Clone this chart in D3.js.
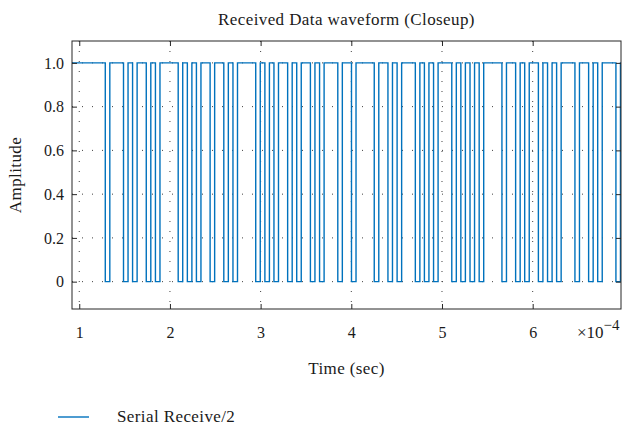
<!DOCTYPE html>
<html>
<head>
<meta charset="utf-8">
<script src="https://cdn.jsdelivr.net/npm/d3@7"></script>
<style>
  body { margin: 0; background: #fff; }
  svg text { font-family: "Liberation Serif", "DejaVu Serif", serif; fill: #1a1a1a; }
</style>
</head>
<body>
<svg id="chart"></svg>
<script>
// time values in units of 1e-4 s
const xTicks = [1, 2, 3, 4, 5, 6];
const yTicks = [0, 0.2, 0.4, 0.6, 0.8, 1.0];
const xRange = [0.92, 6.974];
const yRange = [-0.125, 1.1];

// low (0) pulses of the received signal, start and end times (x 1e-4 s)
const lowStart = [1.287, 1.488, 1.588, 1.739, 1.840, 2.091, 2.192, 2.292, 2.443, 2.594,
  2.695, 2.946, 3.047, 3.147, 3.298, 3.398, 3.549, 3.650, 3.851, 4.002,
  4.253, 4.404, 4.505, 4.706, 4.806, 4.907, 5.108, 5.208, 5.309, 5.410,
  5.661, 5.812, 5.912, 6.063, 6.164, 6.264, 6.466, 6.617, 6.717, 6.918];
const lowEnd = [1.337, 1.538, 1.638, 1.789, 1.890, 2.141, 2.242, 2.342, 2.493, 2.644,
  2.745, 2.996, 3.097, 3.197, 3.348, 3.448, 3.599, 3.700, 3.901, 4.052,
  4.303, 4.454, 4.555, 4.756, 4.856, 4.957, 5.158, 5.258, 5.359, 5.460,
  5.711, 5.862, 5.962, 6.113, 6.214, 6.314, 6.516, 6.667, 6.767, 6.968];

const dimensions = {
  width: 623,
  height: 426,
  margin: { top: 41, bottom: 117, left: 72, right: 2 }
};
const w = dimensions.width - dimensions.margin.left - dimensions.margin.right;
const h = dimensions.height - dimensions.margin.top - dimensions.margin.bottom;

const svg = d3.select("#chart")
  .attr("width", dimensions.width)
  .attr("height", dimensions.height);

const g = svg.append("g")
  .attr("transform", `translate(${dimensions.margin.left},${dimensions.margin.top})`);

const xScale = d3.scaleLinear().domain(xRange).range([0, w]);
const yScale = d3.scaleLinear().domain(yRange).range([h, 0]);

// dotted grid
g.append("g").selectAll("line").data(xTicks).join("line")
  .attr("x1", d => xScale(d)).attr("x2", d => xScale(d))
  .attr("y1", 0).attr("y2", h)
  .attr("stroke", "#404040").attr("stroke-width", 1)
  .attr("stroke-dasharray", "1,9");
g.append("g").selectAll("line").data(yTicks).join("line")
  .attr("y1", d => yScale(d)).attr("y2", d => yScale(d))
  .attr("x1", 0).attr("x2", w)
  .attr("stroke", "#404040").attr("stroke-width", 1)
  .attr("stroke-dasharray", "1,9");

// build the step signal
const points = [[xRange[0], 1]];
lowStart.forEach((s, i) => {
  points.push([s, 0]);
  points.push([lowEnd[i], 1]);
});
points.push([xRange[1], 1]);

g.append("clipPath").attr("id", "clip")
  .append("rect").attr("x", 0).attr("y", 0).attr("width", w).attr("height", h);

const line = d3.line()
  .x(d => xScale(d[0]))
  .y(d => yScale(d[1]))
  .curve(d3.curveStepAfter);

g.append("path")
  .datum(points)
  .attr("clip-path", "url(#clip)")
  .attr("fill", "none")
  .attr("stroke", "#0072BD")
  .attr("stroke-width", 1.4)
  .attr("d", line);

// axes with inward ticks on all sides
const fmtY = d => (d === 0 ? "0" : d.toFixed(1));
const axisStyle = sel => {
  sel.select(".domain").remove();
  sel.selectAll(".tick line").attr("stroke", "#262626");
  sel.selectAll("text").style("font-size", "16px").attr("fill", "#1a1a1a");
};

g.append("g").attr("transform", `translate(0,${h})`)
  .call(d3.axisBottom(xScale).tickValues(xTicks).tickSize(-5).tickPadding(18).tickFormat(d3.format("d")))
  .call(axisStyle);
g.append("g")
  .call(d3.axisTop(xScale).tickValues(xTicks).tickSize(-5).tickFormat(""))
  .call(axisStyle);
g.append("g")
  .call(d3.axisLeft(yScale).tickValues(yTicks).tickSize(-5).tickPadding(8).tickFormat(fmtY))
  .call(axisStyle);
g.append("g").attr("transform", `translate(${w},0)`)
  .call(d3.axisRight(yScale).tickValues(yTicks).tickSize(-5).tickFormat(""))
  .call(axisStyle);

g.append("rect")
  .attr("x", 0).attr("y", 0).attr("width", w).attr("height", h)
  .attr("fill", "none").attr("stroke", "#262626").attr("stroke-width", 1);

// exponent label
const expo = svg.append("text")
  .attr("x", 577).attr("y", 338)
  .style("font-size", "17px");
expo.append("tspan").text("\u00d710");
expo.append("tspan").attr("dy", -8).style("font-size", "15px").text("\u22124");

// title and axis labels
const labelStyle = sel => sel.style("font-size", "17px").style("letter-spacing", "0.4px");

svg.append("text")
  .attr("x", dimensions.margin.left + w / 2).attr("y", 25)
  .attr("text-anchor", "middle").call(labelStyle)
  .text("Received Data waveform (Closeup)");

svg.append("text")
  .attr("x", dimensions.margin.left + w / 2).attr("y", 374)
  .attr("text-anchor", "middle").call(labelStyle)
  .text("Time (sec)");

svg.append("text")
  .attr("transform", `translate(21,${dimensions.margin.top + h / 2})rotate(-90)`)
  .attr("text-anchor", "middle").call(labelStyle)
  .text("Amplitude");

// legend
const legend = svg.append("g").attr("transform", "translate(58,417)");
legend.append("line")
  .attr("x1", 0).attr("x2", 31).attr("y1", 0).attr("y2", 0)
  .attr("stroke", "#0072BD").attr("stroke-width", 1.4);
legend.append("text")
  .attr("x", 59).attr("y", 5).call(labelStyle)
  .text("Serial Receive/2");
</script>
</body>
</html>
